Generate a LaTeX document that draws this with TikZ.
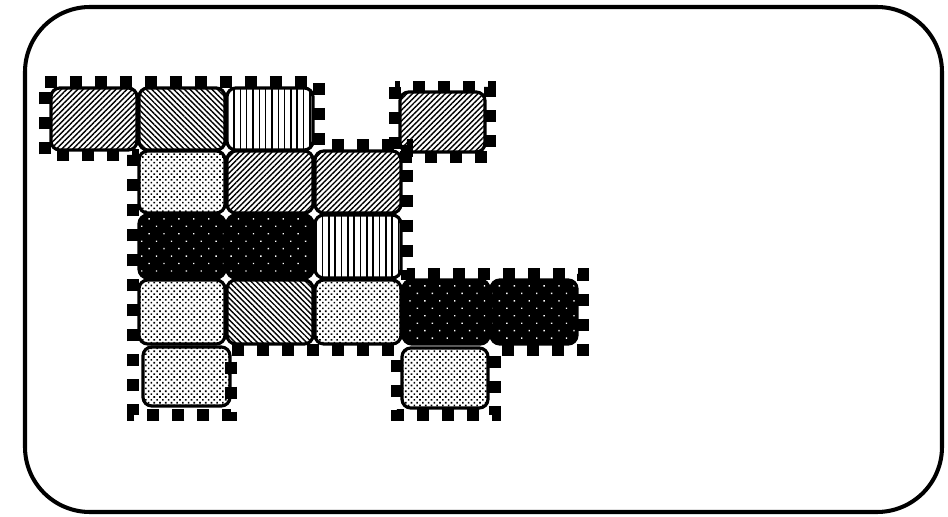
\documentclass[tikz,border=0pt]{standalone}
\usetikzlibrary{patterns.meta}

\begin{document}
\begin{tikzpicture}[x=0.02cm,y=-0.02cm,
  tile/.style={draw=black,line width=1.8pt,rounded corners=5pt},
  ne/.style={tile,pattern={Lines[angle=45,distance=2.2pt,line width=0.8pt]}},
  nw/.style={tile,pattern={Lines[angle=-45,distance=2.2pt,line width=0.8pt]}},
  vl/.style={tile,pattern={Lines[angle=90,distance=3.6pt,line width=0.9pt]}},
  lt/.style={tile,pattern={Dots[angle=45,distance=2.3pt,radius=0.65pt]}},
  dk/.style={tile,preaction={fill=black},pattern={Dots[angle=45,distance=6pt,radius=0.55pt]},pattern color=white},
  rim/.style={line width=6.5pt,dash pattern=on 0.24cm off 0.26cm}]
\useasboundingbox (0,0) rectangle (948,517);
\draw[line width=2.3pt,rounded corners=1.3cm] (25,7) rectangle (942,512);
% dashed outlines
\draw[rim] (45,82) -- (319,82) -- (319,145) -- (407,145) -- (407,274) -- (583,274)
  -- (583,350) -- (495,350) -- (495,415) -- (397,415) -- (397,350) -- (231,350)
  -- (231,415) -- (133,415) -- (133,155) -- (45,155) -- cycle;
\draw[rim] (395,87) rectangle (490,157);
% row 0
\draw[ne] (51,88) rectangle (137,150);
\draw[nw] (139,88) rectangle (225,150);
\draw[vl] (227,88) rectangle (313,150);
\draw[ne] (400,92) rectangle (485,152);
% row 1
\draw[lt] (139,151) rectangle (225,213);
\draw[ne] (227,151) rectangle (313,213);
\draw[ne] (315,151) rectangle (401,213);
% row 2
\draw[dk] (139,215) rectangle (225,278);
\draw[dk] (227,215) rectangle (313,278);
\draw[vl] (315,215) rectangle (401,278);
% row 3
\draw[lt] (139,280) rectangle (225,344);
\draw[nw] (227,280) rectangle (313,344);
\draw[lt] (315,280) rectangle (401,344);
\draw[dk] (403,280) rectangle (489,344);
\draw[dk] (491,280) rectangle (577,344);
% row 4
\draw[lt] (143,347) rectangle (230,406);
\draw[lt] (402,348) rectangle (488,408);
\end{tikzpicture}
\end{document}
